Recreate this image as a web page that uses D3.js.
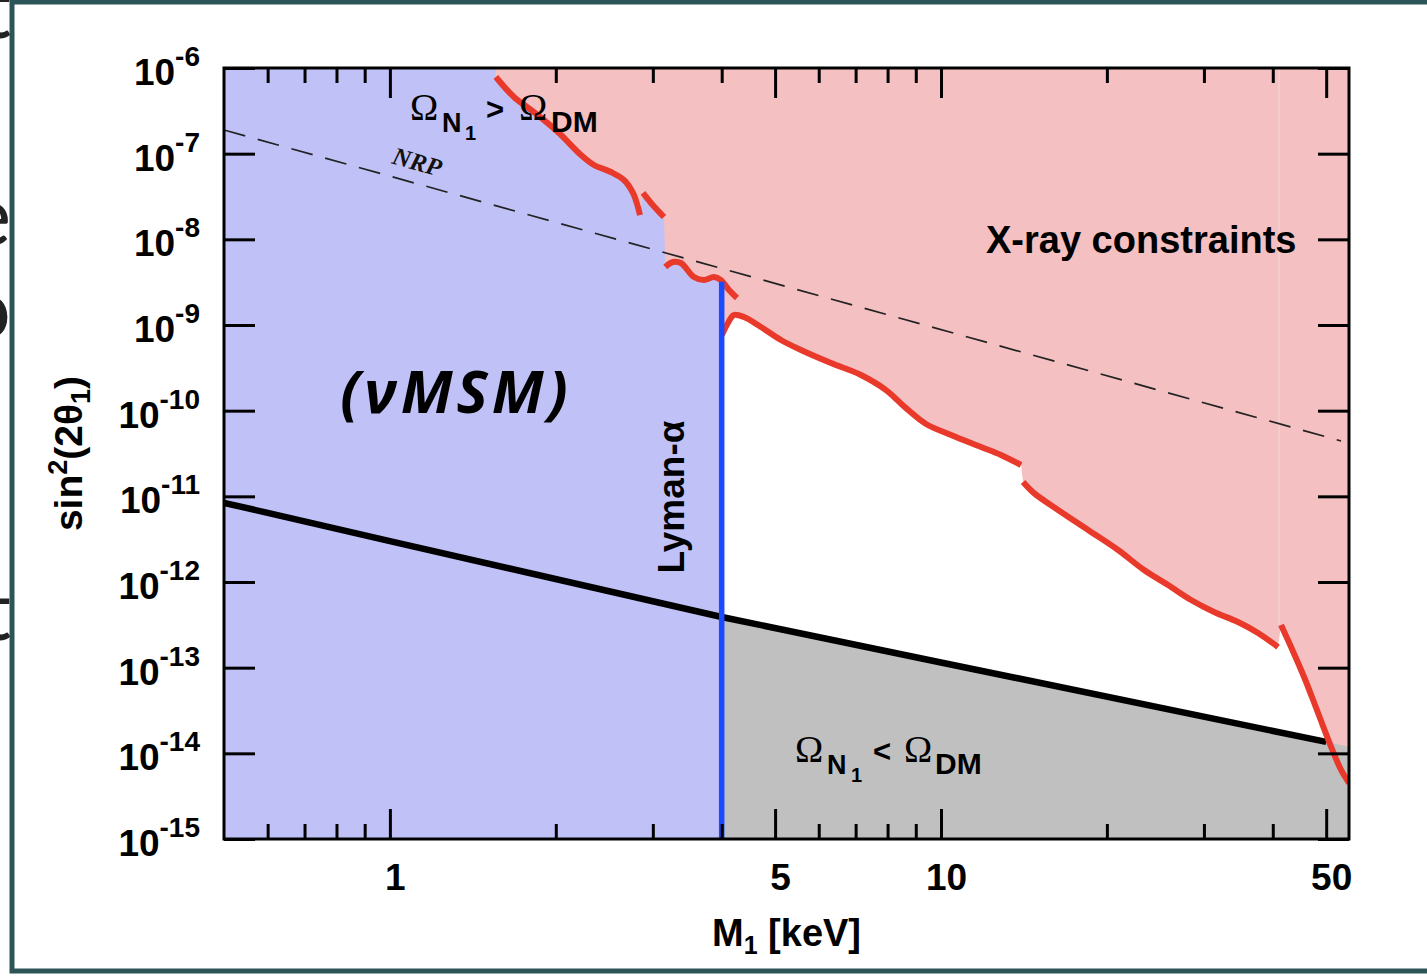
<!DOCTYPE html>
<html><head><meta charset="utf-8">
<script src="https://cdn.jsdelivr.net/npm/d3@7"></script>
<style>
html,body{margin:0;padding:0;background:#fff;overflow:hidden;}
svg{display:block;}
</style></head><body>
<svg id="chart" width="1427" height="976"></svg>
<script>
// Sterile neutrino dark matter: mass M1 (keV) against mixing sin^2(2θ1)

const massDomain = [0.5, 55];
const mixDomain = [1e-15, 1e-6];

const xTicksMajor = [1, 5, 10, 50];
const xTicksMinor = [0.6, 0.7, 0.8, 0.9, 2, 3, 4, 6, 7, 8, 9, 20, 30, 40];
const yTickExponents = [-6, -7, -8, -9, -10, -11, -12, -13, -14, -15];

// Lyman-α lower mass bound
const lymanAlphaMass = 4.0;
const lymanAlphaTop = 3.2e-9;

// X-ray bound, in the separate pieces it is drawn as: [M1 keV, sin^2(2θ1)]
const xrayA = [[1.557, 7.85e-7], [1.679, 4.59e-7], [1.825, 3.06e-7], [2.018, 1.79e-7], [2.222, 9.65e-8],
  [2.346, 7.37e-8], [2.518, 6.11e-8], [2.659, 4.93e-8], [2.761, 3.48e-8], [2.819, 2.38e-8], [2.843, 1.92e-8]];
const xrayB = [[2.879, 3.48e-8], [2.977, 2.66e-8], [3.143, 1.82e-8]];
const xrayC = [[3.160, 4.75e-9], [3.263, 5.44e-9], [3.374, 5.29e-9], [3.562, 3.63e-9], [3.715, 3.35e-9],
  [3.873, 3.63e-9], [3.988, 3.35e-9], [4.124, 2.56e-9], [4.264, 2.07e-9]];
const xrayD = [[4.004, 7.64e-10], [4.106, 1.056e-9], [4.210, 1.31e-9], [4.390, 1.24e-9], [4.713, 9.48e-10],
  [5.124, 6.68e-10], [5.570, 5.11e-10], [6.316, 3.60e-10], [7.157, 2.61e-10], [7.948, 1.74e-10],
  [8.640, 1.07e-10], [9.393, 6.99e-11], [10.43, 5.20e-11], [11.82, 3.77e-11], [12.85, 3.04e-11], [13.97, 2.32e-11]];
const xrayE = [[14.09, 1.47e-11], [14.75, 1.09e-11], [16.31, 6.93e-12], [18.49, 4.05e-12], [20.96, 2.36e-12],
  [23.36, 1.38e-12], [25.82, 9.23e-13], [28.43, 6.17e-13], [31.30, 4.47e-13], [34.59, 3.41e-13],
  [37.61, 2.54e-13], [40.89, 1.74e-13]];
const xrayF = [[41.40, 3.15e-13], [43.18, 1.74e-13], [45.59, 7.78e-14], [48.33, 2.96e-14], [51.04, 1.19e-14],
  [53.21, 6.39e-15], [55.0, 4.51e-15]];

// Ω_N1 = Ω_DM line, and where its shaded side meets the right edge
const abundanceLine = [[0.5, 8.4e-12], [1, 3.0e-12], [4.0, 3.9e-13], [10, 1.15e-13], [50, 1.36e-14]];
const abundanceEdge = [55, 1.19e-14];

// NRP line (dashed)
const nrpLine = [[0.5, 1.89e-7], [53.2, 4.43e-11]];

const C = {
  blue: "#c0c2f7", pink: "#f4c0c1", gray: "#c0c0c0",
  red: "#e8392b", lyman: "#1a4bff", frame: "#2c5557"
};
const SANS = "'Liberation Sans', Arial, Helvetica, sans-serif";
const SERIF = "'Liberation Serif', 'Times New Roman', serif";

const svg = d3.select("#chart");

// slide text running behind the framed figure
svg.append("clipPath").attr("id", "leftStrip").append("rect")
  .attr("x", 0).attr("y", 0).attr("width", 10).attr("height", 976);
const behind = svg.append("g").attr("clip-path", "url(#leftStrip)");
[["t", 38], ["e", 245], ["o", 338], ["t", 640]].forEach(([s, by]) => {
  behind.append("text").attr("x", 11).attr("y", by).attr("text-anchor", "end")
    .attr("font-family", "Lato, 'Open Sans', sans-serif").attr("font-weight", 400)
    .attr("font-size", 84).attr("fill", "#222").text(s);
});

const x = d3.scaleLog().domain(massDomain).range([224, 1349]);
const y = d3.scaleLog().domain(mixDomain).range([839, 68]);
const [x0, x1] = x.range();
const [yB, yT] = y.range();

svg.append("clipPath").attr("id", "plotClip").append("rect")
  .attr("x", x0).attr("y", yT).attr("width", x1 - x0).attr("height", yB - yT);
const plot = svg.append("g").attr("clip-path", "url(#plotClip)");

// Lyman-α excluded band
plot.append("rect")
  .attr("x", x(massDomain[0])).attr("y", y(mixDomain[1]))
  .attr("width", x(lymanAlphaMass) - x(massDomain[0]))
  .attr("height", y(mixDomain[0]) - y(mixDomain[1]))
  .attr("fill", C.blue);

// X-ray excluded region
const area = d3.line().x(d => x(d[0])).y(d => y(d[1]));
const xrayOutline = [].concat(
  [[xrayA[0][0], mixDomain[1]]],
  xrayA, xrayB,
  xrayC.filter(d => d[0] <= lymanAlphaMass),
  xrayD, xrayE, xrayF,
  [[massDomain[1], mixDomain[1]]]
);
plot.append("path").attr("d", area(xrayOutline) + "Z").attr("fill", C.pink);
// seam between the two right-hand X-ray pieces
plot.append("line")
  .attr("x1", x(xrayE[xrayE.length - 1][0]) + 1).attr("x2", x(xrayE[xrayE.length - 1][0]) + 1)
  .attr("y1", y(mixDomain[1])).attr("y2", y(xrayF[0][1]))
  .attr("stroke", "#fff").attr("stroke-opacity", 0.35).attr("stroke-width", 1);

// Ω_N1 < Ω_DM region (above the Lyman-α bound)
const grayOutline = [].concat(
  [[lymanAlphaMass, mixDomain[0]]],
  abundanceLine.filter(d => d[0] >= lymanAlphaMass),
  [abundanceEdge],
  [[massDomain[1], mixDomain[0]]]
);
plot.append("path").attr("d", area(grayOutline) + "Z").attr("fill", C.gray);

// NRP dashed line
plot.append("path").attr("d", area(nrpLine)).attr("fill", "none")
  .attr("stroke", "#222").attr("stroke-width", 1.7).attr("stroke-dasharray", "22,13");

// abundance line
plot.append("path").attr("d", area(abundanceLine)).attr("fill", "none")
  .attr("stroke", "#000").attr("stroke-width", 6.5);

// X-ray bound pieces
[xrayA, xrayB, xrayC, xrayD, xrayE, xrayF].forEach(seg => {
  plot.append("path").attr("d", d3.line().curve(d3.curveCatmullRom).x(d => x(d[0])).y(d => y(d[1]))(seg))
    .attr("fill", "none").attr("stroke", C.red).attr("stroke-width", 6).attr("stroke-linecap", "butt");
});

// Lyman-α line
plot.append("line")
  .attr("x1", x(lymanAlphaMass)).attr("x2", x(lymanAlphaMass))
  .attr("y1", y(mixDomain[0])).attr("y2", y(lymanAlphaTop))
  .attr("stroke", C.lyman).attr("stroke-width", 5.5);

// axes
function styleAxis(g) {
  g.select(".domain").remove();
  g.selectAll(".tick line").attr("stroke", "#000").attr("stroke-width", 3);
  g.selectAll(".tick text").attr("font-family", SANS).attr("font-weight", "bold")
    .attr("font-size", 37).attr("fill", "#000").attr("dx", 5);
}
svg.append("g").attr("transform", `translate(0,${yB})`)
  .call(d3.axisBottom(x).tickValues(xTicksMajor).tickFormat(d3.format("d"))
    .tickSizeInner(-30).tickSizeOuter(0).tickPadding(25)).call(styleAxis);
svg.append("g").attr("transform", `translate(0,${yB})`)
  .call(d3.axisBottom(x).tickValues(xTicksMinor).tickFormat("")
    .tickSizeInner(-15).tickSizeOuter(0)).call(styleAxis);
svg.append("g").attr("transform", `translate(0,${yT})`)
  .call(d3.axisTop(x).tickValues(xTicksMajor).tickFormat("")
    .tickSizeInner(-30).tickSizeOuter(0)).call(styleAxis);
svg.append("g").attr("transform", `translate(0,${yT})`)
  .call(d3.axisTop(x).tickValues(xTicksMinor).tickFormat("")
    .tickSizeInner(-15).tickSizeOuter(0)).call(styleAxis);

const yTickValues = yTickExponents.map(e => Math.pow(10, e));
svg.append("g").attr("transform", `translate(${x0},0)`)
  .call(d3.axisLeft(y).tickValues(yTickValues).tickFormat("")
    .tickSizeInner(-31).tickSizeOuter(0)).call(styleAxis);
svg.append("g").attr("transform", `translate(${x1},0)`)
  .call(d3.axisRight(y).tickValues(yTickValues).tickFormat("")
    .tickSizeInner(-31).tickSizeOuter(0)).call(styleAxis);

yTickExponents.forEach(e => {
  const t = svg.append("text").attr("x", x0 - 24).attr("y", y(Math.pow(10, e)) + 17)
    .attr("text-anchor", "end").attr("font-family", SANS).attr("font-weight", "bold").attr("fill", "#000");
  t.append("tspan").attr("font-size", 37).text("10");
  t.append("tspan").attr("font-size", 28).attr("dy", -19).text(String(e));
});

// plot frame
svg.append("rect").attr("x", x0).attr("y", yT).attr("width", x1 - x0).attr("height", yB - yT)
  .attr("fill", "none").attr("stroke", "#000").attr("stroke-width", 3);

// axis titles
const xt = svg.append("text").attr("x", (x0 + x1) / 2).attr("y", 946).attr("text-anchor", "middle")
  .attr("font-family", SANS).attr("font-weight", "bold").attr("font-size", 38).attr("fill", "#000");
xt.append("tspan").text("M");
xt.append("tspan").attr("font-size", 25).attr("dy", 8).text("1");
xt.append("tspan").attr("dy", -8).text(" [keV]");

const yt = svg.append("text").attr("transform", `translate(82,${(yT + yB) / 2}) rotate(-90)`)
  .attr("text-anchor", "middle").attr("font-family", SANS).attr("font-weight", "bold")
  .attr("font-size", 39).attr("fill", "#000");
yt.append("tspan").text("sin");
yt.append("tspan").attr("font-size", 27).attr("dy", -15).text("2");
yt.append("tspan").attr("dy", 15).text("(2θ");
yt.append("tspan").attr("font-size", 27).attr("dy", 8).text("1");
yt.append("tspan").attr("dy", -8).text(")");

// region labels
function omegaLabel(xs, base, rel) {
  const g = svg.append("g").attr("fill", "#000");
  const t = (xx, yy, s, fam, size, w) => g.append("text").attr("x", xx).attr("y", yy)
    .attr("font-family", fam).attr("font-size", size).attr("font-weight", w).text(s);
  t(xs[0], base, "Ω", SERIF, 38, "normal");
  t(xs[1], base + 12, "N", SANS, 27, "bold");
  t(xs[2], base + 20, "1", SANS, 20, "bold");
  t(xs[3], base, rel, SANS, 31, "bold");
  t(xs[4], base, "Ω", SERIF, 38, "normal");
  t(xs[5], base + 12, "DM", SANS, 30, "bold");
}
omegaLabel([410, 442, 465, 486, 519, 551], 120, ">");
omegaLabel([795, 827, 851, 873, 904, 935], 762, "<");

svg.append("text").attr("x", 986).attr("y", 253).attr("font-family", SANS).attr("font-weight", "bold")
  .attr("font-size", 38).attr("fill", "#000").text("X-ray constraints");

svg.append("text").attr("transform", "translate(684,497) rotate(-90)").attr("text-anchor", "middle")
  .attr("font-family", SANS).attr("font-weight", "bold").attr("font-size", 37).attr("fill", "#000")
  .text("Lyman-α");

svg.append("text").attr("transform", "translate(415,170) rotate(15.6)").attr("text-anchor", "middle")
  .attr("font-family", SERIF).attr("font-style", "italic").attr("font-weight", "bold")
  .attr("font-size", 25).attr("fill", "#111").text("NRP");

svg.append("text").attr("x", 456).attr("y", 413).attr("text-anchor", "middle")
  .attr("font-family", "'Open Sans', sans-serif").attr("font-style", "italic").attr("font-weight", "bold")
  .attr("font-size", 59).attr("letter-spacing", 4).attr("fill", "#000").text("(νMSM)");

// slide frame around the figure
svg.append("rect").attr("x", 12).attr("y", 2).attr("width", 1440).attr("height", 969)
  .attr("fill", "none").attr("stroke", C.frame).attr("stroke-width", 5);
</script>
</body></html>
